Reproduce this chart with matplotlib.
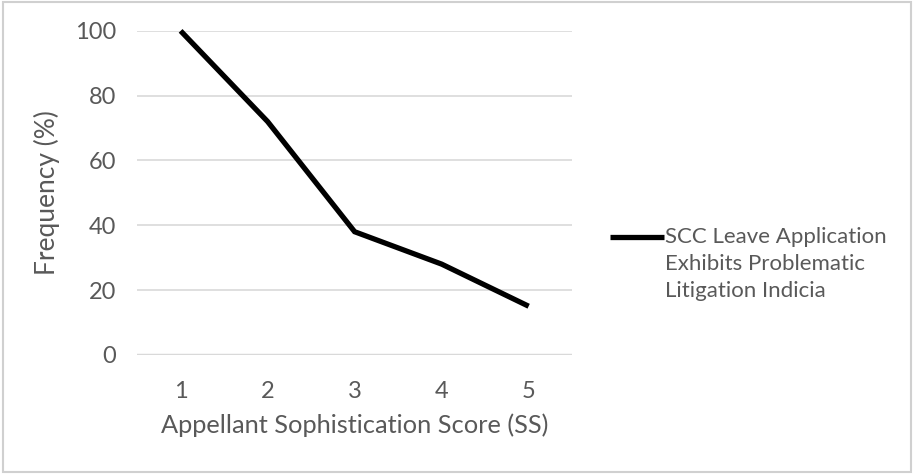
import matplotlib.pyplot as plt
from matplotlib.lines import Line2D
from matplotlib.patches import Rectangle

# Data
scores = [1, 2, 3, 4, 5]
frequency = [100, 72, 38, 28, 15]
series_name = "SCC Leave Application\nExhibits Problematic\nLitigation Indicia"
y_ticks = [0, 20, 40, 60, 80, 100]

text_grey = '#595959'
grid_grey = '#d9d9d9'
plt.rcParams['font.family'] = ['Lato', 'DejaVu Sans']

fig = plt.figure(figsize=(9.14, 4.75), dpi=100)
ax = fig.add_axes([0.150, 0.253, 0.476, 0.682])

ax.plot(scores, frequency, color='black', linewidth=3.8, solid_capstyle='butt',
        solid_joinstyle='miter', zorder=3, clip_on=False)

ax.set_xlim(0.5, 5.5)
ax.set_ylim(0, 100)
ax.set_yticks(y_ticks)
ax.set_xticks(scores)
ax.grid(axis='y', color=grid_grey, linewidth=1.2)
ax.axhline(0, color=grid_grey, linewidth=2.5, zorder=2)
for s in ax.spines.values():
    s.set_visible(False)
ax.tick_params(length=0, labelsize=17, colors=text_grey, pad=19)
ax.tick_params(axis='y', pad=15)
ax.set_xlabel('Appellant Sophistication Score (SS)', fontsize=18.3, color=text_grey, labelpad=8)
ax.set_ylabel('Frequency (%)', fontsize=19, color=text_grey)
ax.yaxis.set_label_coords(-0.177, 0.5)

# legend key, placed like the original (aligned with the first text line)
fig.add_artist(Line2D([610 / 914, 664 / 914], [1 - 237 / 475, 1 - 237 / 475],
                      color='black', linewidth=3.8, solid_capstyle='butt'))
fig.text(665 / 914, 1 - 227 / 475, series_name, fontsize=16, color=text_grey,
         va='top', ha='left', linespacing=1.45)

# chart area border
fig.add_artist(Rectangle((0.003, 0.006), 0.994, 0.99, transform=fig.transFigure,
                         fill=False, edgecolor='#d0d0d0', linewidth=1.5))

fig.savefig('out.png', dpi=100)
